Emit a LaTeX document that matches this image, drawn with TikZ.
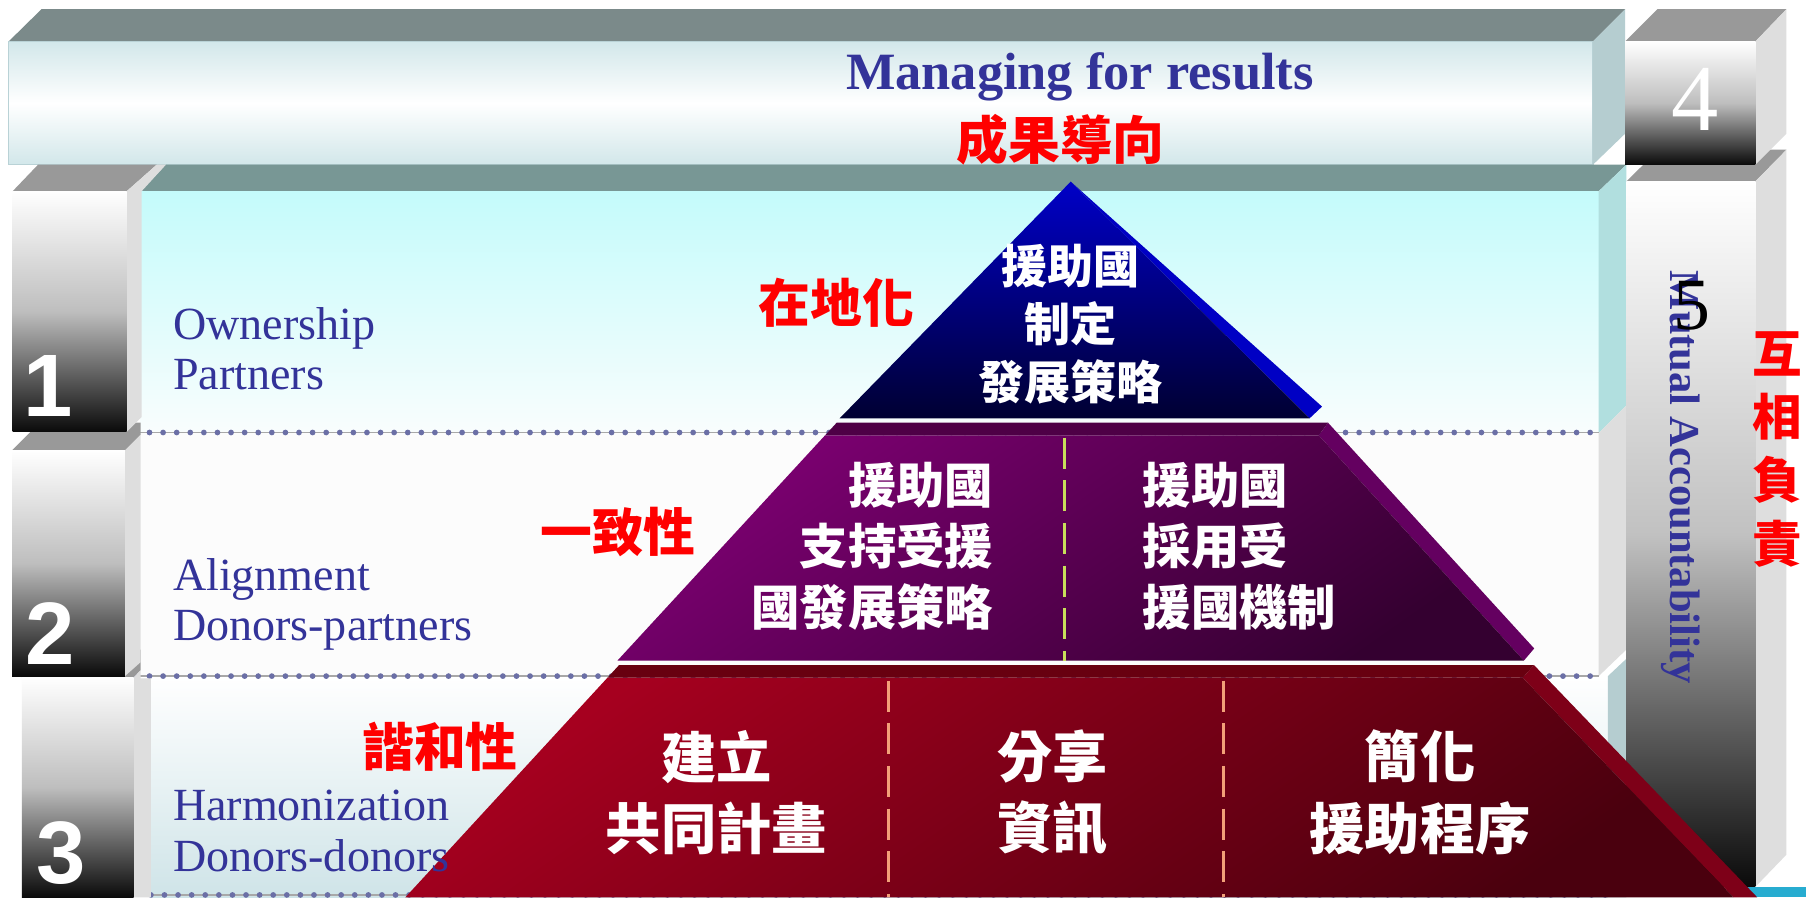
\documentclass[tikz,border=0pt]{standalone}
\usepackage{fontspec}
\setmainfont{Liberation Serif}
\newfontfamily\digitsans{Liberation Sans}
\newfontfamily\cjk{Noto Sans CJK TC}
\definecolor{lblue}{HTML}{333399}
\definecolor{barTop}{HTML}{7B8A8A}
\definecolor{barFront}{HTML}{D2E7EA}
\definecolor{barSide}{HTML}{B5CDD0}
\definecolor{barEdge}{HTML}{B9D2D6}
\definecolor{boxTop}{HTML}{999999}
\definecolor{boxSide}{HTML}{DEDEDE}
\definecolor{boxMid}{HTML}{BEBEBE}
\definecolor{boxBot}{HTML}{0A0A0A}
\definecolor{bandTop}{HTML}{789795}
\definecolor{cyanTop}{HTML}{C4FBFB}
\definecolor{cyanBot}{HTML}{F9FDFD}
\definecolor{cyanSide}{HTML}{B1DFDF}
\definecolor{bandTwo}{HTML}{FCFCFC}
\definecolor{bandThreeBot}{HTML}{CFE4E8}
\definecolor{dotc}{HTML}{6B6FA6}
\definecolor{dotline}{HTML}{A8A8A8}
\definecolor{blueTop}{HTML}{0000C8}
\definecolor{blueBot}{HTML}{000032}
\definecolor{blueSide}{HTML}{0000C4}
\definecolor{purA}{HTML}{7D0072}
\definecolor{purB}{HTML}{340030}
\definecolor{purTop}{HTML}{4E0046}
\definecolor{purSide}{HTML}{640060}
\definecolor{redA}{HTML}{A6001F}
\definecolor{redB}{HTML}{4A000E}
\definecolor{redTop}{HTML}{680010}
\definecolor{redSide}{HTML}{7E0018}
\definecolor{dashY}{HTML}{C8DF5A}
\definecolor{dashO}{HTML}{F2A078}
\definecolor{tealStrip}{HTML}{27ACD0}
\tikzset{
  boxfront/.style={top color=white, bottom color=boxBot, middle color=boxMid},
  boxtopface/.style={fill=boxTop},
  boxsideface/.style={fill=boxSide},
  dotrule/.style={draw=dotc, line width=5pt, line cap=round, dash pattern=on 0pt off 11.8pt},
  baserule/.style={draw=dotline, line width=1.5pt},
  numlbl/.style={font=\digitsans\bfseries\fontsize{77}{77}\selectfont, text=white, inner sep=0pt, anchor=base},
  bandlbl/.style={font=\fontsize{40}{40}\selectfont, text=lblue, inner sep=0pt, anchor=base west},
  redlbl/.style={font=\cjk\bfseries\fontsize{45}{45}\selectfont, text=red, inner sep=0pt},
  wtxt/.style={text=white, inner sep=0pt},
  ydash/.style={draw=dashY, line width=2.5pt, dash pattern=on 27pt off 10pt},
  odash/.style={draw=dashO, line width=2.5pt, dash pattern=on 27pt off 10pt},
}
\begin{document}
\begin{tikzpicture}[x=1pt,y=-1pt]
\useasboundingbox (0,0) rectangle (1568,779);
\fill[white] (0,0) rectangle (1568,779);

% ---- top bar
\fill[barTop] (7.5,36) -- (36,8) -- (1411,8) -- (1383,36) -- cycle;
\shade[top color=barFront, bottom color=barFront, middle color=white] (7.5,36) rectangle (1383,143);
\draw[barEdge, line width=1pt] (7.5,36) rectangle (1383,143);
\fill[barSide] (1383,36) -- (1411,8) -- (1411,116) -- (1383,143) -- cycle;

% ---- bands
\fill[bandTop] (122,166) -- (144,143) -- (1412,143) -- (1388,166) -- cycle;
\shade[top color=cyanTop, bottom color=cyanBot] (122,166) rectangle (1388,376);
\fill[cyanSide] (1388,166) -- (1412,143) -- (1412,352) -- (1388,376) -- cycle;
\fill[bandTwo] (122,376) rectangle (1388,587);
\fill[boxSide] (1388,376) -- (1412,352) -- (1412,564) -- (1388,587) -- cycle;
\shade[top color=white, bottom color=bandThreeBot] (131,587) rectangle (1396,779);
\fill[barSide] (1396,587) -- (1412,572) -- (1412,779) -- (1396,779) -- cycle;

% ---- dotted rules
\foreach \yy/\xa/\xb in {375.5/118/1388, 587/118/1388, 777/131/1396}{
  \draw[baserule] (\xa,\yy) -- (\xb,\yy);
  \draw[dotrule] (\xa,\yy) -- (\xb,\yy);
}

% ---- numbered boxes (3 behind 2 behind 1)
\fill[boxtopface] (19,588) -- (43,564) -- (122,564) -- (122,582) -- (116,588) -- cycle;
\fill[boxsideface] (116,588) -- (122,582) -- (122,589) -- (131,589) -- (131,779) -- (116,779) -- cycle;
\shade[boxfront] (19,588) rectangle (116,779);

\fill[boxtopface] (10.5,391) -- (34.5,367) -- (122,367) -- (122,377.5) -- (108.5,391) -- cycle;
\fill[boxsideface] (108.5,391) -- (122,377.5) -- (122,575) -- (108.5,587) -- cycle;
\shade[boxfront] (10.5,391) rectangle (108.5,587);

\fill[boxtopface] (11,166) -- (33,143) -- (136,143) -- (110,166) -- cycle;
\fill[boxsideface] (110,166) -- (136,143) -- (144,143) -- (123,166) -- (123,362) -- (110,375) -- cycle;
\shade[boxfront] (11,166) rectangle (110,375);

% ---- tall box 5 and box 4
\fill[boxtopface] (1412,157.5) -- (1440,130) -- (1551,130) -- (1524,157.5) -- cycle;
\fill[boxsideface] (1524,157.5) -- (1551,130) -- (1551,742) -- (1524,770) -- cycle;
\shade[top color=white, bottom color=boxBot, middle color=boxMid!95!white] (1412,157.5) rectangle (1524,770);

\fill[boxtopface] (1411,36) -- (1439,8) -- (1551,8) -- (1524,36) -- cycle;
\fill[boxsideface] (1524,36) -- (1551,8) -- (1551,116) -- (1524,143) -- cycle;
\shade[boxfront] (1411,36) rectangle (1524,143);

\fill[tealStrip] (1516.5,770) rectangle (1568,779);

% ---- pyramid: top (blue)
\fill[blueSide] (929.6,157.7) -- (1147.8,353) -- (1137,363.2) -- cycle;
\shade[top color=blueTop, bottom color=blueBot] (929.6,157.7) -- (1137,363.2) -- (729,363.2) -- cycle;

% ---- pyramid: middle (purple)
\fill[purSide] (1153,367) -- (1332,563) -- (1323,573.6) -- (1145,378) -- cycle;
\shade[top color=purA, bottom color=purB, shading angle=35] (716.3,378) -- (1145,378) -- (1323,573.6) -- (536,573.6) -- cycle;
\fill[purTop] (726.4,367) -- (1153,367) -- (1145,378) -- (716.3,378) -- cycle;
\draw[ydash] (924,380) -- (924,573.6);

% ---- pyramid: bottom (red)
\fill[redSide] (1331.8,577.4) -- (1525.6,779) -- (1505,779) -- (1322,588.4) -- cycle;
\shade[top color=redA, bottom color=redB, shading angle=35] (527.4,588.4) -- (1322,588.4) -- (1505,779) -- (352,779) -- cycle;
\fill[redTop] (537.5,577.4) -- (1331.8,577.4) -- (1322,588.4) -- (527.4,588.4) -- cycle;
\draw[odash] (771.4,591) -- (771.4,779);
\draw[odash] (1062.4,591) -- (1062.4,779);

% ---- texts
\node[font=\bfseries\fontsize{45.5}{45.5}\selectfont, text=lblue, anchor=base, inner sep=0pt] (title) at (937.6,78) {Managing for results};
\node[redlbl] (results) at (920.6,121.5) {成果導向};
\node[font=\fontsize{82}{82}\selectfont, text=white, anchor=base, inner sep=0pt] (n4) at (1471.6,112.9) {4};

\node[numlbl] (n1) at (41.5,361.8) {1};
\node[numlbl] (n2) at (43.5,577) {2};
\node[numlbl] (n3) at (53.5,767) {3};

\node[bandlbl] (own) at (150,295) {Ownership};
\node[bandlbl] (partners) at (150,338.6) {Partners};
\node[bandlbl] (alig) at (150,512.8) {Alignment};
\node[bandlbl] (dpart) at (150,556) {Donors-partners};
\node[bandlbl] (harm) at (150,712) {Harmonization};
\node[bandlbl] (ddon) at (150,756.8) {Donors-donors};

\node[redlbl] (local) at (726,263) {在地化};
\node[redlbl] (consist) at (536.6,461.6) {一致性};
\node[redlbl] (harmo) at (382,648.7) {諧和性};

\node[font=\bfseries\fontsize{37}{37}\selectfont, text=lblue, rotate=-90, anchor=base, inner sep=0pt] (mutual) at (1450.5,414.5) {Mutual Accountability};
\node[font=\fontsize{64}{64}\selectfont, text=black, anchor=base, inner sep=0pt] (n5) at (1468.7,286.5) {5};
\node[redlbl, align=center, font=\cjk\bfseries\fontsize{43}{55}\selectfont] (mutualzh) at (1543,390) {互\\相\\負\\責};

\node[wtxt, align=center, font=\cjk\bfseries\fontsize{40}{50}\selectfont] (blueText) at (929.4,281.5) {援助國\\制定\\發展策略};
\node[wtxt, align=right, anchor=east, font=\cjk\bfseries\fontsize{42}{53}\selectfont] (purLeft) at (862.6,474) {援助國\\支持受援\\國發展策略};
\node[wtxt, align=left, anchor=west, font=\cjk\bfseries\fontsize{42}{53}\selectfont] (purRight) at (992,474) {援助國\\採用受\\援國機制};

\node[wtxt, align=center, font=\cjk\bfseries\fontsize{48}{62}\selectfont] (redOne) at (622,688) {建立\\共同計畫};
\node[wtxt, align=center, font=\cjk\bfseries\fontsize{48}{62}\selectfont] (redTwo) at (914,688) {分享\\資訊};
\node[wtxt, align=center, font=\cjk\bfseries\fontsize{48}{62}\selectfont] (redThree) at (1233,688) {簡化\\援助程序};
\end{tikzpicture}
\end{document}
